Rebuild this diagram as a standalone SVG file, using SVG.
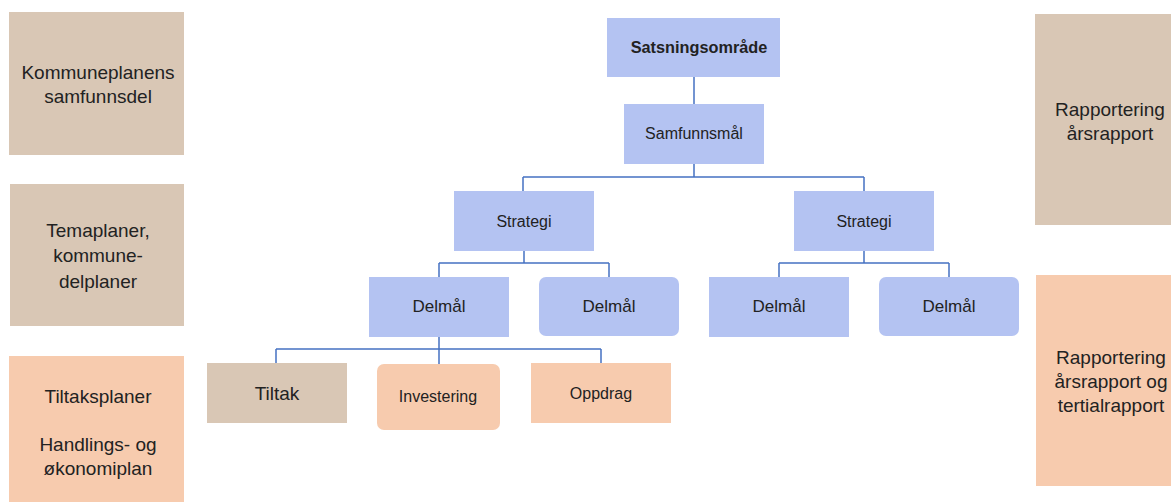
<svg xmlns="http://www.w3.org/2000/svg" width="1171" height="502" viewBox="0 0 1171 502">
<style>
.tan{fill:#d9c7b5}
.peach{fill:#f7cbae}
.blue{fill:#b4c3f2}
text{font-family:"Liberation Sans",Arial,sans-serif;fill:#222;text-anchor:middle}
.side{font-size:19px}
.node{font-size:16px}
.conn{fill:none;stroke:#4672c2;stroke-width:1.5}
</style>
<rect width="1171" height="502" fill="#ffffff"/>
<g id="side-kommuneplan">
<rect class="tan" x="9" y="12" width="175" height="143"/>
<text class="side" x="98" y="79">Kommuneplanens</text>
<text class="side" x="98" y="103">samfunnsdel</text>
</g>
<g id="side-temaplaner">
<rect class="tan" x="10" y="184" width="174" height="142"/>
<text class="side" x="98" y="237">Temaplaner,</text>
<text class="side" x="98" y="262">kommune-</text>
<text class="side" x="98" y="288">delplaner</text>
</g>
<g id="side-tiltaksplaner">
<rect class="peach" x="9" y="356" width="175" height="146"/>
<text class="side" x="98" y="403">Tiltaksplaner</text>
<text class="side" x="98" y="451">Handlings- og</text>
<text class="side" x="98" y="475">økonomiplan</text>
</g>
<g id="side-rapport1">
<rect class="tan" x="1035" y="14" width="136" height="211"/>
<text class="side" x="1110" y="116">Rapportering</text>
<text class="side" x="1110" y="140">årsrapport</text>
</g>
<g id="side-rapport2">
<rect class="peach" x="1036" y="275" width="135" height="211"/>
<text class="side" x="1111" y="364">Rapportering</text>
<text class="side" x="1111" y="388">årsrapport og</text>
<text class="side" x="1111" y="412">tertialrapport</text>
</g>
<g id="connectors">
<path class="conn" d="M694 77V177M523 177H864M523 177V191M864 177V191"/>
<path class="conn" d="M524 251V263M439 263H609M439 263V277M609 263V277"/>
<path class="conn" d="M864 251V263M779 263H949M779 263V277M949 263V277"/>
<path class="conn" d="M439 337V364M276 349H601M276 349V363M601 349V363"/>
</g>
<g id="satsningsomrade">
<rect class="blue" x="607" y="18" width="173" height="59"/>
<text class="node" x="699" y="53" font-weight="bold" fill="#000" style="font-size:16.3px">Satsningsområde</text>
</g>
<g id="samfunnsmal">
<rect class="blue" x="624" y="104" width="140" height="60"/>
<text class="node" x="694" y="139">Samfunnsmål</text>
</g>
<g id="strategi-1">
<rect class="blue" x="454" y="191" width="140" height="60"/>
<text class="node" x="524" y="227">Strategi</text>
</g>
<g id="strategi-2">
<rect class="blue" x="794" y="191" width="140" height="60"/>
<text class="node" x="864" y="227">Strategi</text>
</g>
<g id="delmal-1">
<rect class="blue" x="369" y="277" width="140" height="60"/>
<text class="node" x="439" y="312" style="font-size:17px">Delmål</text>
</g>
<g id="delmal-2">
<rect class="blue" x="539" y="277" width="140" height="59" rx="7"/>
<text class="node" x="609" y="312" style="font-size:17px">Delmål</text>
</g>
<g id="delmal-3">
<rect class="blue" x="709" y="277" width="140" height="60"/>
<text class="node" x="779" y="312" style="font-size:17px">Delmål</text>
</g>
<g id="delmal-4">
<rect class="blue" x="879" y="277" width="140" height="59" rx="7"/>
<text class="node" x="949" y="312" style="font-size:17px">Delmål</text>
</g>
<g id="tiltak">
<rect class="tan" x="207" y="363" width="140" height="60"/>
<text x="277" y="400" style="font-size:19px">Tiltak</text>
</g>
<g id="investering">
<rect class="peach" x="377" y="364" width="123" height="66" rx="7"/>
<text x="438" y="402" style="font-size:16px">Investering</text>
</g>
<g id="oppdrag">
<rect class="peach" x="531" y="363" width="140" height="60"/>
<text class="node" x="601" y="399">Oppdrag</text>
</g>
</svg>
